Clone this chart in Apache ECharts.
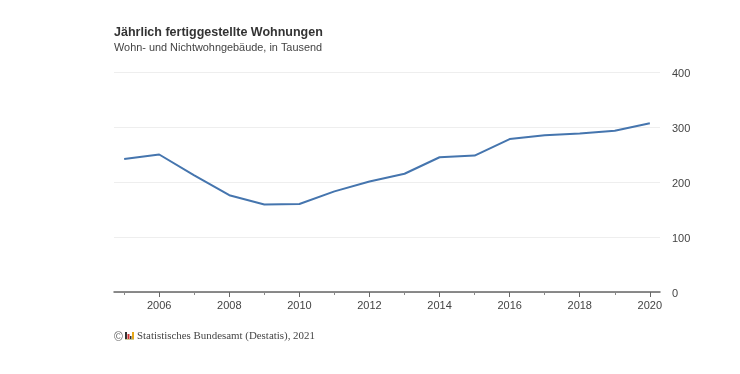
<!DOCTYPE html>
<html><head><meta charset="utf-8">
<style>html,body{margin:0;padding:0;background:#fff}#c{width:740px;height:374px}</style>
<script src="https://cdn.jsdelivr.net/npm/echarts@6/dist/echarts.min.js"></script>
</head><body><div id="c"></div>
<script>
const years = [2005,2006,2007,2008,2009,2010,2011,2012,2013,2014,2015,2016,2017,2018,2019,2020];
const completions = [242,250,212,176,159,160,183,201,215,245,248,278,285,288,293,307];
const labelYears = [2006,2008,2010,2012,2014,2016,2018,2020];
const minorYears = [2005,2007,2009,2011,2013,2015,2017,2019];
const titleText = 'Jährlich fertiggestellte Wohnungen';
const subtitleText = 'Wohn- und Nichtwohngebäude, in Tausend';
const sourceText = 'Statistisches Bundesamt (Destatis), 2021';
const xMin = 2004.71, xMax = 2020.29;
const chart = echarts.init(document.getElementById('c'), null, {renderer:'canvas'});
const sans = '"Liberation Sans", Arial, sans-serif';
chart.setOption({
  animation:false, backgroundColor:'#fff',
  title:[
    {text:titleText,left:114,top:26,padding:0,textStyle:{fontFamily:sans,fontSize:12.5,fontWeight:'bold',color:'#333'}},
    {text:subtitleText,left:114,top:42,padding:0,textStyle:{fontFamily:sans,fontSize:10.9,fontWeight:'normal',color:'#444'}}
  ],
  grid:{left:114,right:80,top:72,bottom:82,containLabel:false},
  xAxis:[
    {type:'value',min:xMin,max:xMax,position:'bottom',splitLine:{show:false},
     axisLine:{show:true,onZero:false,lineStyle:{color:'#666',width:1.5}},
     axisTick:{show:true,length:5,lineStyle:{color:'#666'},customValues:labelYears},
     axisLabel:{customValues:labelYears,formatter:v=>String(v),color:'#444',fontFamily:sans,fontSize:11,margin:8}},
    {type:'value',min:xMin,max:xMax,position:'bottom',splitLine:{show:false},
     axisLine:{show:false},
     axisTick:{show:true,length:3,lineStyle:{color:'#888'},customValues:minorYears},
     axisLabel:{show:false}}
  ],
  yAxis:{type:'value',min:0,max:400,interval:100,position:'right',
    axisLine:{show:false},axisTick:{show:false},
    splitLine:{lineStyle:{color:'#eeeeee',width:1}},
    axisLabel:{margin:12,formatter:'{a|{value}}',
      rich:{a:{color:'#444',fontFamily:sans,fontSize:11,padding:[3,0,0,0]}}}},
  series:[{type:'line',data:years.map((y,i)=>[y,completions[i]]),showSymbol:false,smooth:false,
    lineStyle:{color:'#4575ae',width:2},itemStyle:{color:'#4575ae'}}],
  graphic:[
    {type:'text',left:114,top:332,style:{text:'©',fill:'#666',font:'12px '+sans}},
    {type:'rect',shape:{x:125,y:332,width:2,height:7},style:{fill:'#333'}},
    {type:'rect',shape:{x:127.5,y:334,width:2,height:5},style:{fill:'#c33'}},
    {type:'rect',shape:{x:130,y:336,width:1.5,height:3},style:{fill:'#333'}},
    {type:'rect',shape:{x:132,y:332,width:2,height:7},style:{fill:'#e6a817'}},
    {type:'rect',shape:{x:125,y:339,width:9,height:1},style:{fill:'#cc9'}},
    {type:'text',left:137,top:331,style:{text:sourceText,fill:'#444',font:'10.9px "Liberation Serif", serif'}}
  ]
});
</script></body></html>
